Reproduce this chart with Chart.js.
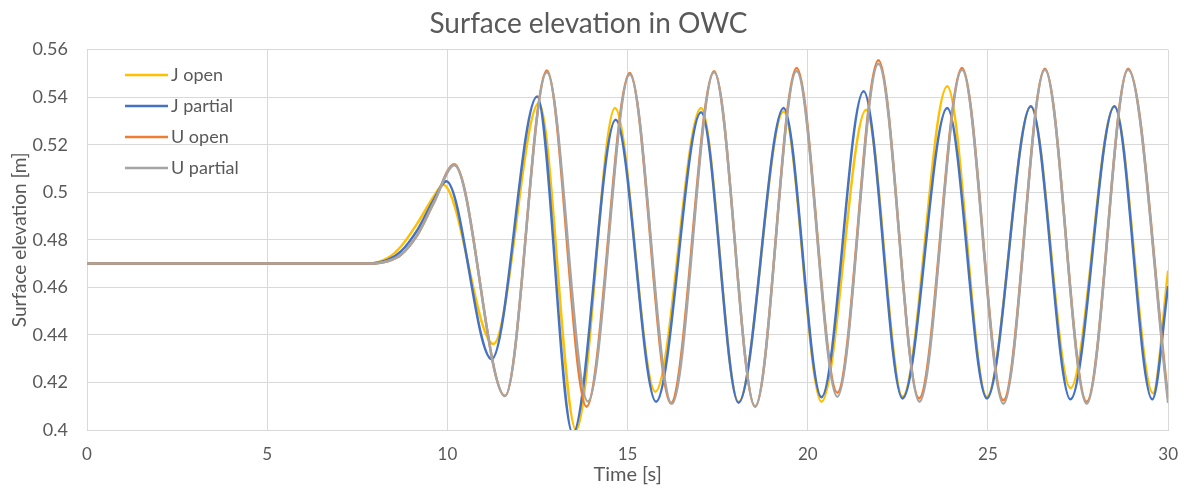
<!DOCTYPE html>
<html>
<head>
<meta charset="utf-8">
<title>Surface elevation in OWC</title>
<script src="https://cdn.jsdelivr.net/npm/chart.js@4"></script>
<style>
    body { margin: 0; background: #ffffff; }
    canvas { display: block; }
</style>
</head>
<body>
<canvas id="chart1" width="1192" height="488"></canvas>
<script>
// data (time in s, elevation in m)
var jOpenTime = [0, 7.8, 8.34, 8.71, 9.17, 9.62, 9.88, 11.28, 12.54, 13.57, 14.65, 15.77, 17.04, 18.08, 19.33, 20.38, 21.62, 22.63, 23.87, 24.97, 26.19, 27.29, 28.51, 29.58, 30.0];
var jOpenVal = [0.470, 0.470, 0.4723, 0.4772, 0.487, 0.4982, 0.5032, 0.4362, 0.5375, 0.4, 0.5354, 0.4161, 0.5354, 0.4118, 0.534, 0.4119, 0.5347, 0.414, 0.5446, 0.414, 0.5362, 0.4176, 0.5362, 0.4155, 0.467];

var jPartialTime = [0, 7.8, 8.34, 8.71, 9.17, 9.62, 9.97, 11.23, 12.49, 13.48, 14.67, 15.79, 17.04, 18.08, 19.33, 20.38, 21.55, 22.63, 23.87, 24.97, 26.19, 27.29, 28.51, 29.56, 30.0];
var jPartialVal = [0.470, 0.470, 0.4715, 0.4751, 0.4842, 0.4968, 0.5046, 0.4298, 0.5403, 0.3985, 0.5305, 0.4119, 0.5336, 0.4115, 0.5354, 0.4138, 0.5425, 0.4133, 0.5354, 0.4133, 0.5362, 0.4129, 0.5362, 0.4129, 0.4605];

var uOpenTime = [0, 7.8, 8.34, 8.71, 9.17, 9.62, 10.19, 11.60, 12.76, 13.86, 15.06, 16.2, 17.40, 18.54, 19.69, 20.82, 21.96, 23.09, 24.28, 25.43, 26.58, 27.74, 28.89, 30.0];
var uOpenVal = [0.470, 0.470, 0.471, 0.4737, 0.4821, 0.4955, 0.5118, 0.4143, 0.5512, 0.4098, 0.5502, 0.4112, 0.5509, 0.4098, 0.5523, 0.4157, 0.5555, 0.4133, 0.5523, 0.4125, 0.5519, 0.4119, 0.5519, 0.4135];

var uPartialTime = [0, 7.8, 8.34, 8.71, 9.17, 9.62, 10.19, 11.60, 12.76, 13.9, 15.06, 16.23, 17.40, 18.54, 19.69, 20.82, 21.96, 23.1, 24.28, 25.43, 26.58, 27.74, 28.89, 30.0];
var uPartialVal = [0.470, 0.470, 0.471, 0.4737, 0.4821, 0.4955, 0.5114, 0.4143, 0.5505, 0.412, 0.5495, 0.411, 0.5505, 0.41, 0.551, 0.414, 0.554, 0.4119, 0.5515, 0.411, 0.5515, 0.411, 0.5515, 0.4114];

var seriesNames = ['J open', 'J partial', 'U open', 'U partial'];
var seriesColors = ['#FFC000', '#4472C4', '#ED7D31', '#A5A5A5'];

var xTicks = [0, 5, 10, 15, 20, 25, 30];
var yTicks = [0.4, 0.42, 0.44, 0.46, 0.48, 0.5, 0.52, 0.54, 0.56];

var textColor = '#595959';
var gridColor = '#D9D9D9';

function toPoints(times, vals) {
    return times.map((t, i) => ({ x: t, y: vals[i] }));
}

function makeSet(i, times, vals) {
    return {
        label: seriesNames[i],
        data: toPoints(times, vals),
        borderColor: seriesColors[i],
        backgroundColor: seriesColors[i],
        borderWidth: 2.5,
        pointRadius: 0,
        cubicInterpolationMode: 'monotone',
        fill: false,
        order: 3 - i   // last series on top, as in excel
    };
}

// legend sits inside the plot, top left, like the excel one
var insideLegend = {
    id: 'insideLegend',
    afterDraw: function (chart) {
        var ctx = chart.ctx;
        ctx.save();
        ctx.font = '18px Lato';
        ctx.textBaseline = 'middle';
        ctx.fillStyle = textColor;
        chart.data.datasets.forEach(function (ds, i) {
            var y = 75 + i * 31;
            ctx.strokeStyle = ds.borderColor;
            ctx.lineWidth = 2.5;
            ctx.beginPath();
            ctx.moveTo(125, y);
            ctx.lineTo(168, y);
            ctx.stroke();
            ctx.fillText(ds.label, 171, y);
        });
        ctx.restore();
    }
};

const ctx1 = document.getElementById('chart1');
const lineChart1 = new Chart(ctx1, {
    type: 'line',
    data: {
        datasets: [
            makeSet(0, jOpenTime, jOpenVal),
            makeSet(1, jPartialTime, jPartialVal),
            makeSet(2, uOpenTime, uOpenVal),
            makeSet(3, uPartialTime, uPartialVal)
        ]
    },
    plugins: [insideLegend],
    options: {
        responsive: false,
        devicePixelRatio: 1,
        animation: false,
        layout: { padding: { left: 0, right: 15, top: 0, bottom: 0 } },
        plugins: {
            legend: { display: false },
            tooltip: { enabled: false },
            title: {
                display: true,
                text: 'Surface elevation in OWC',
                color: textColor,
                font: { family: 'Lato', size: 28, weight: 'normal' },
                padding: { top: 7, bottom: 9 }
            }
        },
        scales: {
            x: {
                type: 'linear',
                min: 0,
                max: 30,
                afterBuildTicks: function (scale) {
                    scale.ticks = xTicks.map(v => ({ value: v }));
                },
                afterFit: function (scale) {
                    scale.height = 58;
                },
                ticks: {
                    color: textColor,
                    font: { family: 'Lato', size: 17 },
                    padding: 14,
                    maxRotation: 0
                },
                grid: { color: gridColor, drawTicks: false },
                border: { color: gridColor },
                title: {
                    display: true,
                    text: 'Time [s]',
                    color: textColor,
                    font: { family: 'Lato', size: 20 },
                    padding: { top: 0, bottom: 1 }
                }
            },
            y: {
                min: 0.4,
                max: 0.56,
                afterBuildTicks: function (scale) {
                    scale.ticks = yTicks.map(v => ({ value: v }));
                },
                afterFit: function (scale) {
                    scale.width = 87;
                },
                ticks: {
                    color: textColor,
                    font: { family: 'Lato', size: 18 },
                    padding: 19,
                    callback: function (value) {
                        return String(Number(value.toFixed(2)));
                    }
                },
                grid: { color: gridColor, drawTicks: false },
                border: { color: gridColor },
                title: {
                    display: true,
                    text: 'Surface elevation [m]',
                    color: textColor,
                    font: { family: 'Lato', size: 19 },
                    padding: { top: 8, bottom: 0 }
                }
            }
        }
    }
});
</script>
</body>
</html>
